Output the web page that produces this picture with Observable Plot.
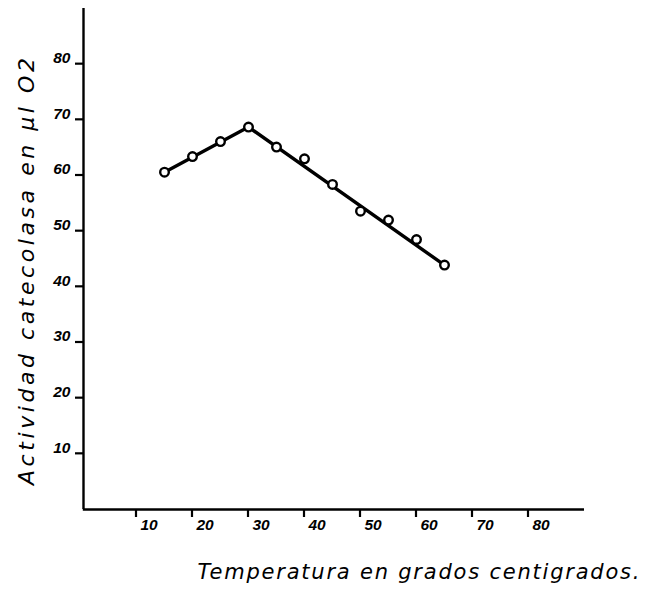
<!DOCTYPE html>
<html>
<head>
<meta charset="utf-8">
<script src="https://cdn.jsdelivr.net/npm/d3@7"></script>
<script src="https://cdn.jsdelivr.net/npm/@observablehq/plot@0.6"></script>
<style>
  body { margin: 0; background: #fff; }
</style>
</head>
<body>
<div id="chart"></div>
<script>
// Measured points
const temperatures = [15, 20, 25, 30, 35, 40, 45, 50, 55, 60, 65];
const activity = [60.6, 63.4, 66.1, 68.7, 65.1, 63.0, 58.4, 53.6, 52.0, 48.5, 43.9];
// Drawn fitted line (two segments)
const fitTemps = [15, 30, 65];
const fitActivity = [60.6, 68.7, 43.9];
// Tick labels
const xTicks = [10, 20, 30, 40, 50, 60, 70, 80];
const yTicks = [10, 20, 30, 40, 50, 60, 70, 80];
const xTitle = "Temperatura en grados centigrados.";
const yTitle = "Actividad catecolasa en μl O2";

const points = temperatures.map((t, i) => ({t, a: activity[i]}));
const fit = fitTemps.map((t, i) => ({t, a: fitActivity[i]}));

const tickFont = {fontFamily: "Liberation Sans, Arial, sans-serif", fontStyle: "italic", fontWeight: "bold", fontSize: 15.5};
const titleFont = {fontFamily: "DejaVu Sans, sans-serif", fontStyle: "italic"};

const chart = Plot.plot({
  width: 646,
  height: 600,
  marginLeft: 80,
  marginRight: 62,
  marginTop: 8,
  marginBottom: 91,
  x: {type: "linear", domain: [0, 90], axis: null},
  y: {type: "linear", domain: [0, 90], axis: null},
  style: {background: "#fff", color: "#000"},
  marks: [
    // axes lines
    Plot.ruleX([0], {y1: 0, y2: 90, dx: 3, stroke: "#000", strokeWidth: 2.4}),
    Plot.ruleY([0], {x1: 0.5, x2: 90, stroke: "#000", strokeWidth: 2.4}),
    // tick labels
    Plot.text(yTicks, {y: d => d, x: 0, text: d => String(d), textAnchor: "end", dx: -10, dy: -6, lineAnchor: "middle", fill: "#000", ...tickFont}),
    Plot.text(xTicks, {x: d => d, y: 0, text: d => String(d), textAnchor: "start", dx: 4, dy: 16, lineAnchor: "middle", fill: "#000", ...tickFont}),
    // fitted line
    Plot.line(fit, {x: "t", y: "a", stroke: "#000", strokeWidth: 3.4}),
    // data points
    Plot.dot(points, {x: "t", y: "a", r: 4.3, fill: "#fff", stroke: "#000", strokeWidth: 2.4}),
    // titles
    Plot.text([xTitle], {frameAnchor: "bottom", textAnchor: "start", dx: -135, dy: 63, lineAnchor: "middle", fill: "#000",
      ...titleFont, fontSize: 21}),
    Plot.text([yTitle], {frameAnchor: "left", textAnchor: "start", dx: -54, dy: 226, rotate: -90, lineAnchor: "middle", fill: "#000",
      ...titleFont, fontSize: 22})
  ]
});

// Short tick marks placed through Plot's scales
const sx = chart.scale("x"), sy = chart.scale("y");
const svg = d3.select(chart);
const g = svg.append("g").attr("stroke", "#000").attr("stroke-width", 2.2);
yTicks.forEach(v => {
  const py = sy.apply(v), px = sx.apply(0) + 3;
  g.append("line").attr("x1", px - 8).attr("x2", px).attr("y1", py).attr("y2", py);
});
xTicks.forEach(v => {
  const px = sx.apply(v), py = sy.apply(0);
  g.append("line").attr("x1", px).attr("x2", px).attr("y1", py).attr("y2", py + 8);
});
svg.selectAll("text").each(function() {
  if (this.textContent === yTitle) d3.select(this).attr("textLength", 427).attr("lengthAdjust", "spacing");
  if (this.textContent === xTitle) d3.select(this).attr("textLength", 442).attr("lengthAdjust", "spacing");
});

document.getElementById("chart").appendChild(chart);
</script>
</body>
</html>
